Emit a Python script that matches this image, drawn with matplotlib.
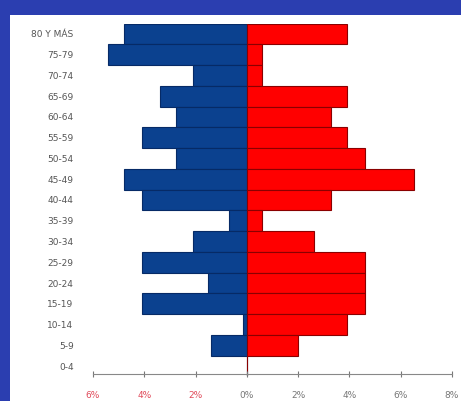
import matplotlib
matplotlib.use("Agg")
from matplotlib import pyplot as plt
from matplotlib.patches import Rectangle

# age groups, top to bottom
grupos = ["80 Y MÁS", "75-79", "70-74", "65-69", "60-64", "55-59", "50-54",
          "45-49", "40-44", "35-39", "30-34", "25-29", "20-24", "15-19",
          "10-14", "5-9", "0-4"]
# percentages (left = blue, right = red)
hombres = [4.8, 5.4, 2.1, 3.4, 2.75, 4.1, 2.75, 4.8, 4.1, 0.7, 2.1, 4.1, 1.5, 4.1, 0.15, 1.4, 0]
mujeres = [3.9, 0.6, 0.6, 3.9, 3.3, 3.9, 4.6, 6.5, 3.3, 0.6, 2.6, 4.6, 4.6, 4.6, 3.9, 2.0, 0]
xticks = [-6, -4, -2, 0, 2, 4, 6, 8]
xlabels = ["6%", "4%", "2%", "0%", "2%", "4%", "6%", "8%"]

fig = plt.figure(figsize=(4.61, 4.01), dpi=100)
fig.patch.set_facecolor("#2b3eb0")
# white panel inside the blue frame
fig.add_artist(Rectangle((10/461, 0), 1, (401-15)/401, transform=fig.transFigure,
                         facecolor="white", edgecolor="none", zorder=0))

ax = fig.add_axes([93/461, 0.0613, 359/461, 0.880])
ax.set_facecolor("none")

# spines first (set_position resets the ticks)
for s in ["top", "right", "left"]:
    ax.spines[s].set_visible(False)
ax.spines["bottom"].set_color("#888888")
ax.spines["bottom"].set_position(("data", -0.4))

n = len(grupos)
ypos = [n - 1 - i for i in range(n)]
ax.barh(ypos, [-v for v in hombres], height=1.0, color="#0b418f",
        edgecolor="#062a66", linewidth=0.8)
ax.barh(ypos, mujeres, height=1.0, color="#ff0000",
        edgecolor="#8a0000", linewidth=0.8)

ax.set_xlim(-6, 8)
ax.set_ylim(-0.5, n - 0.5)

ax.set_yticks(ypos)
ax.set_yticklabels(grupos, fontsize=6.5, color="#555555")
ax.tick_params(axis="y", length=0, pad=14)

ax.set_xticks(xticks)
ax.set_xticklabels(xlabels, fontsize=6.5)
for lab, v in zip(ax.get_xticklabels(), xticks):
    lab.set_color("#e04a5a" if v < 0 else "#777777")
ax.tick_params(axis="x", direction="inout", length=4, color="#777777", pad=10)

fig.savefig("out.png", dpi=100, facecolor=fig.get_facecolor())
